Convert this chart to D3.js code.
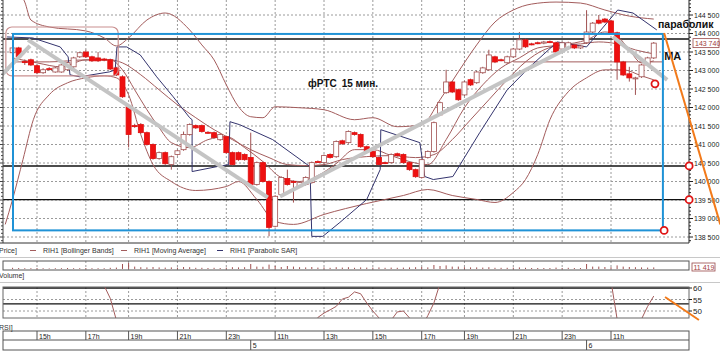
<!DOCTYPE html>
<html>
<head>
<meta charset="utf-8">
<script src="https://cdn.jsdelivr.net/npm/d3@7"></script>
<style>
  body { margin: 0; background: #fff; }
  svg { display: block; }
  text { font-family: "Liberation Sans", Arial, sans-serif; }
</style>
</head>
<body>
<svg id="chart" width="720" height="352"></svg>
<script>
// ---- data (bar index = 15-minute bar number, prices in points) ----
const firstBar = 4;
const candleOpen  = [143480,143610,143240,143290,143130,142940,143050,142960,142960,143020,143100,143370,143500,143370,143340,143310,143290,143070,142830,142020,
  141510,141540,141320,141000,140620,140780,140460,140730,140860,141270,141510,141510,141330,141320,141130,141210,140780,140780,140730,140650,
  139920,140510,140000,138790,139650,140080,140000,139860,139920,139970,140540,140510,140730,140670,141100,141050,141320,141270,140940,140810,
  140650,140510,140510,140750,140730,140510,140320,140110,140650,140810,141800,142400,142690,142480,142340,142750,142670,142940,143020,143370,
  143290,143210,143370,143580,143830,143720,143750,143740,143780,143750,143580,143610,143690,143610,143750,144040,144360,144390,144340,144020,
  143230,142910,142800,142830,143150,143340];
const candleHigh  = [143650,143640,143300,143320,143160,143060,143090,143100,143180,143240,143370,143500,143560,143400,143500,143340,143320,143100,142870,142050,
  141560,141580,141350,141030,140810,140810,140700,140860,141350,141570,141540,141540,141360,141350,141300,141240,140810,140810,140760,141320,
  140540,140540,140030,139630,140140,140320,140030,140000,140140,140540,140570,140730,140760,141110,141130,141380,141350,141300,140970,140840,
  140680,140540,140760,140780,140760,140540,140350,140620,140840,141620,142160,143020,142720,142510,142720,142780,142990,143100,143560,143400,
  143320,143400,143610,144040,143860,143750,143780,143800,143810,143780,143780,143780,143720,143690,144630,144310,144500,144420,144370,144050,
  143260,143100,142830,143180,143370,143770];
const candleLow   = [143450,143340,143150,143120,142900,142910,143000,142940,142940,142990,143070,143340,143340,143230,143230,143250,143010,142850,142260,140920,
  141450,141290,140970,140590,140590,140450,140320,140700,140830,141240,141420,141320,141290,141160,141100,140750,140430,140560,140560,139890,
  139890,139970,138520,138760,139620,139890,139430,139830,139890,139940,140500,140480,140620,140640,140990,141020,141240,140910,140780,140640,
  140430,140470,140480,140670,140480,140290,140100,140080,140620,140780,141770,142370,142390,142180,142310,142580,142640,142910,142990,143200,
  143250,143180,143340,143550,143610,143680,143710,143710,143740,143470,143550,143580,143580,143580,143720,144010,144250,144280,143990,142750,
  142850,142700,142340,142800,143120,143310];
const candleClose = [143610,143370,143230,143150,142940,143020,143040,143070,143150,143210,143340,143480,143370,143260,143260,143280,143040,142880,142290,141270,
  141500,141320,141000,140620,140780,140480,140670,140830,141270,141540,141450,141350,141320,141190,141270,140780,140460,140590,140590,139920,
  140510,140000,138760,139600,140110,139920,139990,139970,140110,140510,140530,140700,140650,141080,141020,141350,141270,140940,140810,140670,
  140460,140500,140730,140700,140510,140320,140130,140590,140810,141590,142130,142690,142420,142210,142690,142610,142960,143070,143420,143230,
  143280,143370,143580,143830,143640,143710,143740,143770,143770,143500,143750,143750,143610,143660,144040,144280,144280,144310,144020,143230,
  142880,142800,142800,143150,143340,143740];
const volume = [6000,5000,4000,4000,5000,4000,3000,4000,4000,5000,4000,4000,5000,4000,4000,4000,6000,7000,25000,30000,
  12000,9000,8000,10000,8000,7000,8000,7000,10000,9000,6000,6000,5000,6000,5000,7000,9000,8000,9000,25000,
  12000,11000,22000,15000,10000,15000,12000,9000,8000,10000,7000,8000,6000,9000,7000,9000,6000,8000,7000,7000,
  8000,6000,7000,6000,7000,8000,9000,10000,8000,20000,15000,18000,12000,12000,9000,8000,8000,7000,9000,6000,
  6000,6000,7000,8000,6000,5000,5000,5000,5000,7000,5000,6000,5000,5000,25000,12000,12000,10000,9000,18000,
  12000,10000,9000,8000,7000,8000];
const rsi = [64,62,61,61,62,63,63,64,65,66,67,68,66,64,63,61,55.5,46,35,22,
  28,27,25,23,27,26,30,29,35,40,39,38,38,36,37,33,30,31,31,30,
  36,33,25,33,38,36,36,37,40,44,47.2,49.1,50.5,52,55.2,56,58.3,57.5,53.5,50,
  47,44,46,49.6,50,47,44,43,48,53.5,62,70,72,70,68,70,71,72,74,72,
  71,72,73,75,73,73,73,74,74,70,72,72,70,71,78,80,79,78,63,46.5,
  38,37,39,46.5,52,56.5];

// indicator lines: [bar index, price]
const bbUpper = [[4,145308],[6,144850],[7,144365],[10,144176],[16,144069],[19,143880],[21,143664],[23,143880],[26,144365],[29,144554],
  [33,144096],[35,143691],[37,143287],[39,142613],[41,142020],[43,141751],[45,141724],[47,142020],[51,141993],[55,141940],[60,141670],
  [63,141724],[67,141481],[71,141535],[74,142209],[77,142964],[80,143691],[83,144311],[86,144635],[89,144796],[93,144850],[97,144823],
  [101,144635],[105,144470],[109,144390]];
const bbMiddle = [[4,143233],[10,143233],[16,143287],[20,143287],[22,143206],[25,142883],[28,142478],[31,142074],[34,141724],[37,141400],
  [40,141131],[43,140861],[46,140646],[49,140457],[52,140430],[55,140457],[58,140592],[62,140673],[66,140700],[70,140646],[73,140727],
  [76,141131],[79,141670],[82,142209],[85,142748],[88,143233],[91,143557],[94,143691],[97,143718],[100,143772],[103,143718],[106,143557],[109,143449]];
const bbLower = [[2.8,138840],[4,139514],[5.7,140592],[7.4,141670],[10,142344],[13,142667],[16,142802],[19,142856],[21,142802],[23,142344],
  [25,141266],[27,140457],[30,139999],[34,139757],[39,139864],[41,139999],[44,139514],[47,138921],[50,138840],[55,139110],[62,139406],
  [68,139622],[72,139784],[76,139622],[80,139514],[83,139433],[86,139703],[88,140053],[90,140727],[92,141670],[95,142425],[98,142802],
  [101,143017],[104,143017],[107,142856],[109,142748]];
const movAvg = [[4,143341],[8,143206],[12,143098],[16,143287],[20,143287],[22,143017],[24,142478],[26,141940],[28,141455],[30,141050],
  [33,140915],[36,141131],[39,141212],[42,140915],[45,140538],[48,140107],[51,139999],[54,140161],[57,140484],[60,140861],[63,140861],
  [66,140700],[69,140538],[72,140457],[75,141131],[78,141994],[81,142613],[84,143071],[87,143341],[90,143610],[94,143691],[98,143826],
  [101,144042],[103,143934],[105,143557],[107,143206],[109,143260]];
const parabolicSar = [[3.1,143907],[7.3,143880],[11.8,143637],[13.1,143368],[13.4,142883],[15,142829],[19.9,142964],[20.8,143017],
  [21.1,143637],[22.7,143637],[24.9,143422],[27.6,142829],[30.3,142290],[33,141724],[33.4,141670],[33.4,140269],[37.5,140403],
  [39.4,140457],[39.6,141616],[41.2,141535],[46.6,141131],[52.7,140403],[53,138517],[54.8,138517],[57.6,138894],[62,139514],
  [64.2,140322],[64.3,141400],[70.7,141050],[71.5,140134],[72.9,140053],[76.1,140134],[80.5,141320],[85,142478],[88.7,143098],
  [93.2,143772],[98,143637],[103.1,144635],[105.6,144554],[109.5,144096]];

// drawn objects
const levelLines = [143850, 140420, 139510];
const supportLine = [[86,143233],[110.5,143233]];
const trendLines = [
  [[1.94,142829],[6.85,143664]],
  [[6.53,143826],[45.8,139568]],
  [[47.8,139595],[95.3,143637]],
  [[102.3,143907],[111.2,142748]]
];
const blueBox = { i0: 4.07, i1: 110.5, p0: 143988, p1: 138679 };
const roundBox = { i0: 2.9, i1: 21.3, p0: 144176, p1: 142856 };
const orangeLine = [[110.7,144015],[119.9,138840]];
const orangeRsi = [[110.85,56.1],[116.4,46.1]];
const redMarks = [[110.7,138679],[114.8,140420],[114.8,139510],[109.2,142640]];

const priceTicks = d3.range(138500, 144501, 500);
const timeTickIdx = [8,16,23,31,39,47,55,63,71,78,86,94,102];
const timeTickLbl = ["15h","17h","19h","21h","23h","11h","13h","15h","17h","19h","21h","23h","11h"];
const dayIdx = [43, 98];
const dayLbl = ["5", "6"];
const rsiTicks = [50, 55, 60];
const lastPrice = 143740;
const lastVolume = "11 419";

// ---- layout ----
const svg = d3.select("#chart");
const L = 3, R = 689, T = 0, B = 243;
const rsiTop = 287, rsiBot = 318;
const volTop = 261, volBot = 270;

const x = d3.scaleLinear().domain([8, 102]).range([37, 611]);
const y = d3.scaleLinear().domain([138500, 144500]).range([237, 15]);
const yRsi = d3.scaleLinear().domain([50, 60]).range([311, 288]);
const yVol = d3.scaleLinear().domain([0, 40000]).range([volBot - 1, volTop]);
const fmt = v => d3.format(",")(v).replace(/,/g, " ");

const defs = svg.append("defs");
defs.append("clipPath").attr("id", "clipMain").append("rect")
  .attr("x", L).attr("y", T).attr("width", R - L).attr("height", B - T);
defs.append("clipPath").attr("id", "clipRsi").append("rect")
  .attr("x", L).attr("y", rsiTop).attr("width", R - L).attr("height", rsiBot - rsiTop);

// ---- main panel grid ----
const grid = svg.append("g");
grid.selectAll(".hg").data(priceTicks).enter().append("line")
  .attr("x1", L).attr("x2", R).attr("y1", d => y(d)).attr("y2", d => y(d))
  .attr("stroke", "#9a9a9a").attr("stroke-dasharray", "2,2");
[[T, B], [volTop, volBot], [rsiTop, rsiBot]].forEach(([a, b]) => {
  grid.selectAll(null).data(timeTickIdx).enter().append("line")
    .attr("x1", d => x(d)).attr("x2", d => x(d)).attr("y1", a).attr("y2", b)
    .attr("stroke", "#9a9a9a").attr("stroke-dasharray", "2,2");
});

const main = svg.append("g").attr("clip-path", "url(#clipMain)");

// horizontal user levels
main.selectAll(".lvl").data(levelLines).enter().append("line")
  .attr("x1", L).attr("x2", R).attr("y1", d => y(d)).attr("y2", d => y(d))
  .attr("stroke", "#111").attr("stroke-width", 1.4);

// indicators
const curve = d3.line().x(d => x(d[0])).y(d => y(d[1])).curve(d3.curveMonotoneX);
[bbUpper, bbMiddle, bbLower, movAvg].forEach(s => {
  main.append("path").datum(s).attr("d", curve)
    .attr("fill", "none").attr("stroke", "#a35c5c").attr("stroke-width", 1);
});
main.append("path").datum(supportLine)
  .attr("d", d3.line().x(d => x(d[0])).y(d => y(d[1])))
  .attr("fill", "none").attr("stroke", "#a35c5c").attr("stroke-width", 1);
main.append("path").datum(parabolicSar)
  .attr("d", d3.line().x(d => x(d[0])).y(d => y(d[1])))
  .attr("fill", "none").attr("stroke", "#34346e").attr("stroke-width", 1);

// candles
const candles = candleOpen.map((o, k) => ({
  i: firstBar + k, o, h: candleHigh[k], l: candleLow[k], c: candleClose[k]
}));
const cg = main.append("g");
cg.selectAll(".wick").data(candles).enter().append("line")
  .attr("x1", d => x(d.i)).attr("x2", d => x(d.i))
  .attr("y1", d => y(d.h)).attr("y2", d => y(d.l))
  .attr("stroke", "#a05050").attr("stroke-width", 1);
cg.selectAll(".body").data(candles).enter().append("rect")
  .attr("x", d => x(d.i) - 2.5).attr("width", 5)
  .attr("y", d => y(Math.max(d.o, d.c)))
  .attr("height", d => Math.max(1, Math.abs(y(d.o) - y(d.c))))
  .attr("fill", d => d.c < d.o ? "#ee1010" : "#fff")
  .attr("stroke", d => d.c < d.o ? "#e01010" : "#a05050")
  .attr("stroke-width", 0.8);

// drawn shapes
main.append("rect")
  .attr("x", x(roundBox.i0)).attr("y", y(roundBox.p0))
  .attr("width", x(roundBox.i1) - x(roundBox.i0)).attr("height", y(roundBox.p1) - y(roundBox.p0))
  .attr("rx", 6).attr("fill", "none").attr("stroke", "#c99090").attr("stroke-width", 1.2);

main.selectAll(".trend").data(trendLines).enter().append("path")
  .attr("d", d3.line().x(d => x(d[0])).y(d => y(d[1])))
  .attr("stroke", "#c4c4c4").attr("stroke-width", 4).attr("fill", "none");

svg.append("rect")
  .attr("x", x(blueBox.i0)).attr("y", y(blueBox.p0))
  .attr("width", x(blueBox.i1) - x(blueBox.i0)).attr("height", y(blueBox.p1) - y(blueBox.p0))
  .attr("fill", "none").attr("stroke", "#1f92d6").attr("stroke-width", 2);

// annotations
svg.append("text").attr("x", x(52.4)).attr("y", y(142560))
  .attr("font-size", 10).attr("font-weight", "bold").attr("fill", "#111").text("фРТС");
svg.append("text").attr("x", x(57.9)).attr("y", y(142560))
  .attr("font-size", 10).attr("font-weight", "bold").attr("fill", "#111").text("15 мин.");
svg.append("text").attr("x", x(109.7)).attr("y", y(144160))
  .attr("font-size", 10.5).attr("font-weight", "bold").attr("fill", "#111").text("параболик");
svg.append("text").attr("x", x(110.7)).attr("y", y(143280))
  .attr("font-size", 11).attr("font-weight", "bold").attr("fill", "#111").text("МА");

// ---- right price axis ----
const ax = svg.append("g");
ax.append("line").attr("x1", R).attr("x2", R).attr("y1", T).attr("y2", B).attr("stroke", "#222");
ax.append("line").attr("x1", L).attr("x2", L).attr("y1", T).attr("y2", B).attr("stroke", "#444");
ax.append("line").attr("x1", 0).attr("x2", R).attr("y1", B).attr("y2", B).attr("stroke", "#333");
const minor = d3.range(138400, 144901, 100).filter(v => y(v) > T && y(v) < B);
ax.selectAll(".mt").data(minor).enter().append("line")
  .attr("x1", R).attr("x2", d => R + (d % 500 === 0 ? 4 : 2))
  .attr("y1", d => y(d)).attr("y2", d => y(d)).attr("stroke", "#222");
ax.selectAll(".lt").data(minor).enter().append("line")
  .attr("x1", L).attr("x2", d => L - (d % 500 === 0 ? 3 : 2))
  .attr("y1", d => y(d)).attr("y2", d => y(d)).attr("stroke", "#444");
ax.selectAll(".pl").data(priceTicks).enter().append("text")
  .attr("x", R + 5).attr("y", d => y(d) + 2.5)
  .attr("font-size", 7).attr("fill", "#222").text(d => fmt(d));
ax.append("rect").attr("x", R + 4).attr("y", y(lastPrice) - 4.5).attr("width", 26).attr("height", 9)
  .attr("fill", "#fff").attr("stroke", "#9a4a4a").attr("stroke-width", 0.8);
ax.append("text").attr("x", R + 6).attr("y", y(lastPrice) + 2.5)
  .attr("font-size", 7).attr("fill", "#a03c3c").text(fmt(lastPrice));

// orange line and red markers (over everything)
svg.append("path").datum(orangeLine)
  .attr("d", d3.line().x(d => x(d[0])).y(d => y(d[1])))
  .attr("stroke", "#f27a1a").attr("stroke-width", 2).attr("fill", "none");
svg.selectAll(".rm").data(redMarks).enter().append("circle")
  .attr("cx", d => x(d[0])).attr("cy", d => y(d[1])).attr("r", 3.5)
  .attr("fill", "#fff").attr("stroke", "#e01515").attr("stroke-width", 1.8);

// ---- legend strip ----
const lg = svg.append("g").attr("font-size", 7).attr("fill", "#333");
lg.append("text").attr("x", -1).attr("y", 253).text("Price]");
const legendItems = [
  { x: 30, label: "RIH1 [Bollinger Bands]", color: "#a35c5c" },
  { x: 121, label: "RIH1 [Moving Average]", color: "#a35c5c" },
  { x: 217, label: "RIH1 [Parabolic SAR]", color: "#34346e" }
];
legendItems.forEach(it => {
  lg.append("line").attr("x1", it.x).attr("x2", it.x + 6).attr("y1", 250.5).attr("y2", 250.5)
    .attr("stroke", it.color).attr("stroke-width", 1);
  lg.append("text").attr("x", it.x + 13).attr("y", 253).text(it.label);
});
svg.append("line").attr("x1", 0).attr("x2", 720).attr("y1", 257.5).attr("y2", 257.5).attr("stroke", "#c8c8c8");
svg.append("line").attr("x1", 0).attr("x2", 720).attr("y1", 282.5).attr("y2", 282.5).attr("stroke", "#c8c8c8");

// ---- volume panel ----
svg.append("rect").attr("x", L).attr("y", volTop).attr("width", R - L).attr("height", volBot - volTop)
  .attr("fill", "none").attr("stroke", "#555").attr("stroke-width", 1);
svg.selectAll(".vb").data(volume).enter().append("line")
  .attr("x1", (d, k) => x(firstBar + k)).attr("x2", (d, k) => x(firstBar + k))
  .attr("y1", yVol(0)).attr("y2", d => yVol(d))
  .attr("stroke", "#a05050").attr("stroke-width", 1);
svg.append("rect").attr("x", R + 3).attr("y", 263).attr("width", 23).attr("height", 8)
  .attr("fill", "#fff").attr("stroke", "#9a4a4a").attr("stroke-width", 0.8);
svg.append("text").attr("x", R + 4.5).attr("y", 269.5).attr("font-size", 7).attr("fill", "#a03c3c").text(lastVolume);
svg.append("text").attr("x", -1).attr("y", 278).attr("font-size", 7).attr("fill", "#333").text("Volume]");

// ---- RSI panel ----
const rg = svg.append("g");
rg.selectAll(".rl").data([55, 50]).enter().append("line")
  .attr("x1", L).attr("x2", R).attr("y1", d => yRsi(d)).attr("y2", d => yRsi(d))
  .attr("stroke", "#9a9a9a").attr("stroke-dasharray", "2,2");
rg.append("line").attr("x1", L).attr("x2", R).attr("y1", yRsi(60)).attr("y2", yRsi(60))
  .attr("stroke", "#111").attr("stroke-width", 1.6);
rg.append("line").attr("x1", L).attr("x2", R).attr("y1", yRsi(53.1)).attr("y2", yRsi(53.1))
  .attr("stroke", "#111").attr("stroke-width", 1.2);
rg.append("path").datum(rsi)
  .attr("clip-path", "url(#clipRsi)")
  .attr("d", d3.line().x((d, k) => x(firstBar + k)).y(d => yRsi(d)))
  .attr("fill", "none").attr("stroke", "#a35c5c").attr("stroke-width", 1);
rg.append("rect").attr("x", L).attr("y", rsiTop).attr("width", R - L).attr("height", rsiBot - rsiTop)
  .attr("fill", "none").attr("stroke", "#666").attr("stroke-width", 1);
rg.selectAll(".rt").data(rsiTicks).enter().append("text")
  .attr("x", R + 4).attr("y", d => yRsi(d) + 3).attr("font-size", 8).attr("fill", "#222").text(d => d);
rg.selectAll(".rtk").data(rsiTicks).enter().append("line")
  .attr("x1", R).attr("x2", R + 3).attr("y1", d => yRsi(d)).attr("y2", d => yRsi(d)).attr("stroke", "#222");
rg.append("path").datum(orangeRsi)
  .attr("d", d3.line().x(d => x(d[0])).y(d => yRsi(d[1])))
  .attr("stroke", "#f27a1a").attr("stroke-width", 2).attr("fill", "none");
svg.append("text").attr("x", -1).attr("y", 330).attr("font-size", 7).attr("fill", "#333").text("RSI]");

// ---- time axis ----
const tg = svg.append("g");
tg.append("rect").attr("x", L).attr("y", 331).attr("width", R - L).attr("height", 19)
  .attr("fill", "none").attr("stroke", "#555");
tg.append("line").attr("x1", L).attr("x2", R).attr("y1", 340).attr("y2", 340).attr("stroke", "#555");
tg.selectAll(".tt").data(timeTickIdx).enter().append("line")
  .attr("x1", d => x(d)).attr("x2", d => x(d)).attr("y1", 331).attr("y2", 340).attr("stroke", "#555");
tg.selectAll(".tl").data(timeTickIdx).enter().append("text")
  .attr("x", d => x(d) + 2).attr("y", 338.5).attr("font-size", 7).attr("fill", "#222")
  .text((d, k) => timeTickLbl[k]);
tg.selectAll(".dt").data(dayIdx).enter().append("line")
  .attr("x1", d => x(d)).attr("x2", d => x(d)).attr("y1", 340).attr("y2", 350).attr("stroke", "#555");
tg.selectAll(".dl").data(dayIdx).enter().append("text")
  .attr("x", d => x(d) + 2).attr("y", 348).attr("font-size", 7).attr("fill", "#222")
  .text((d, k) => dayLbl[k]);
</script>
</body>
</html>
